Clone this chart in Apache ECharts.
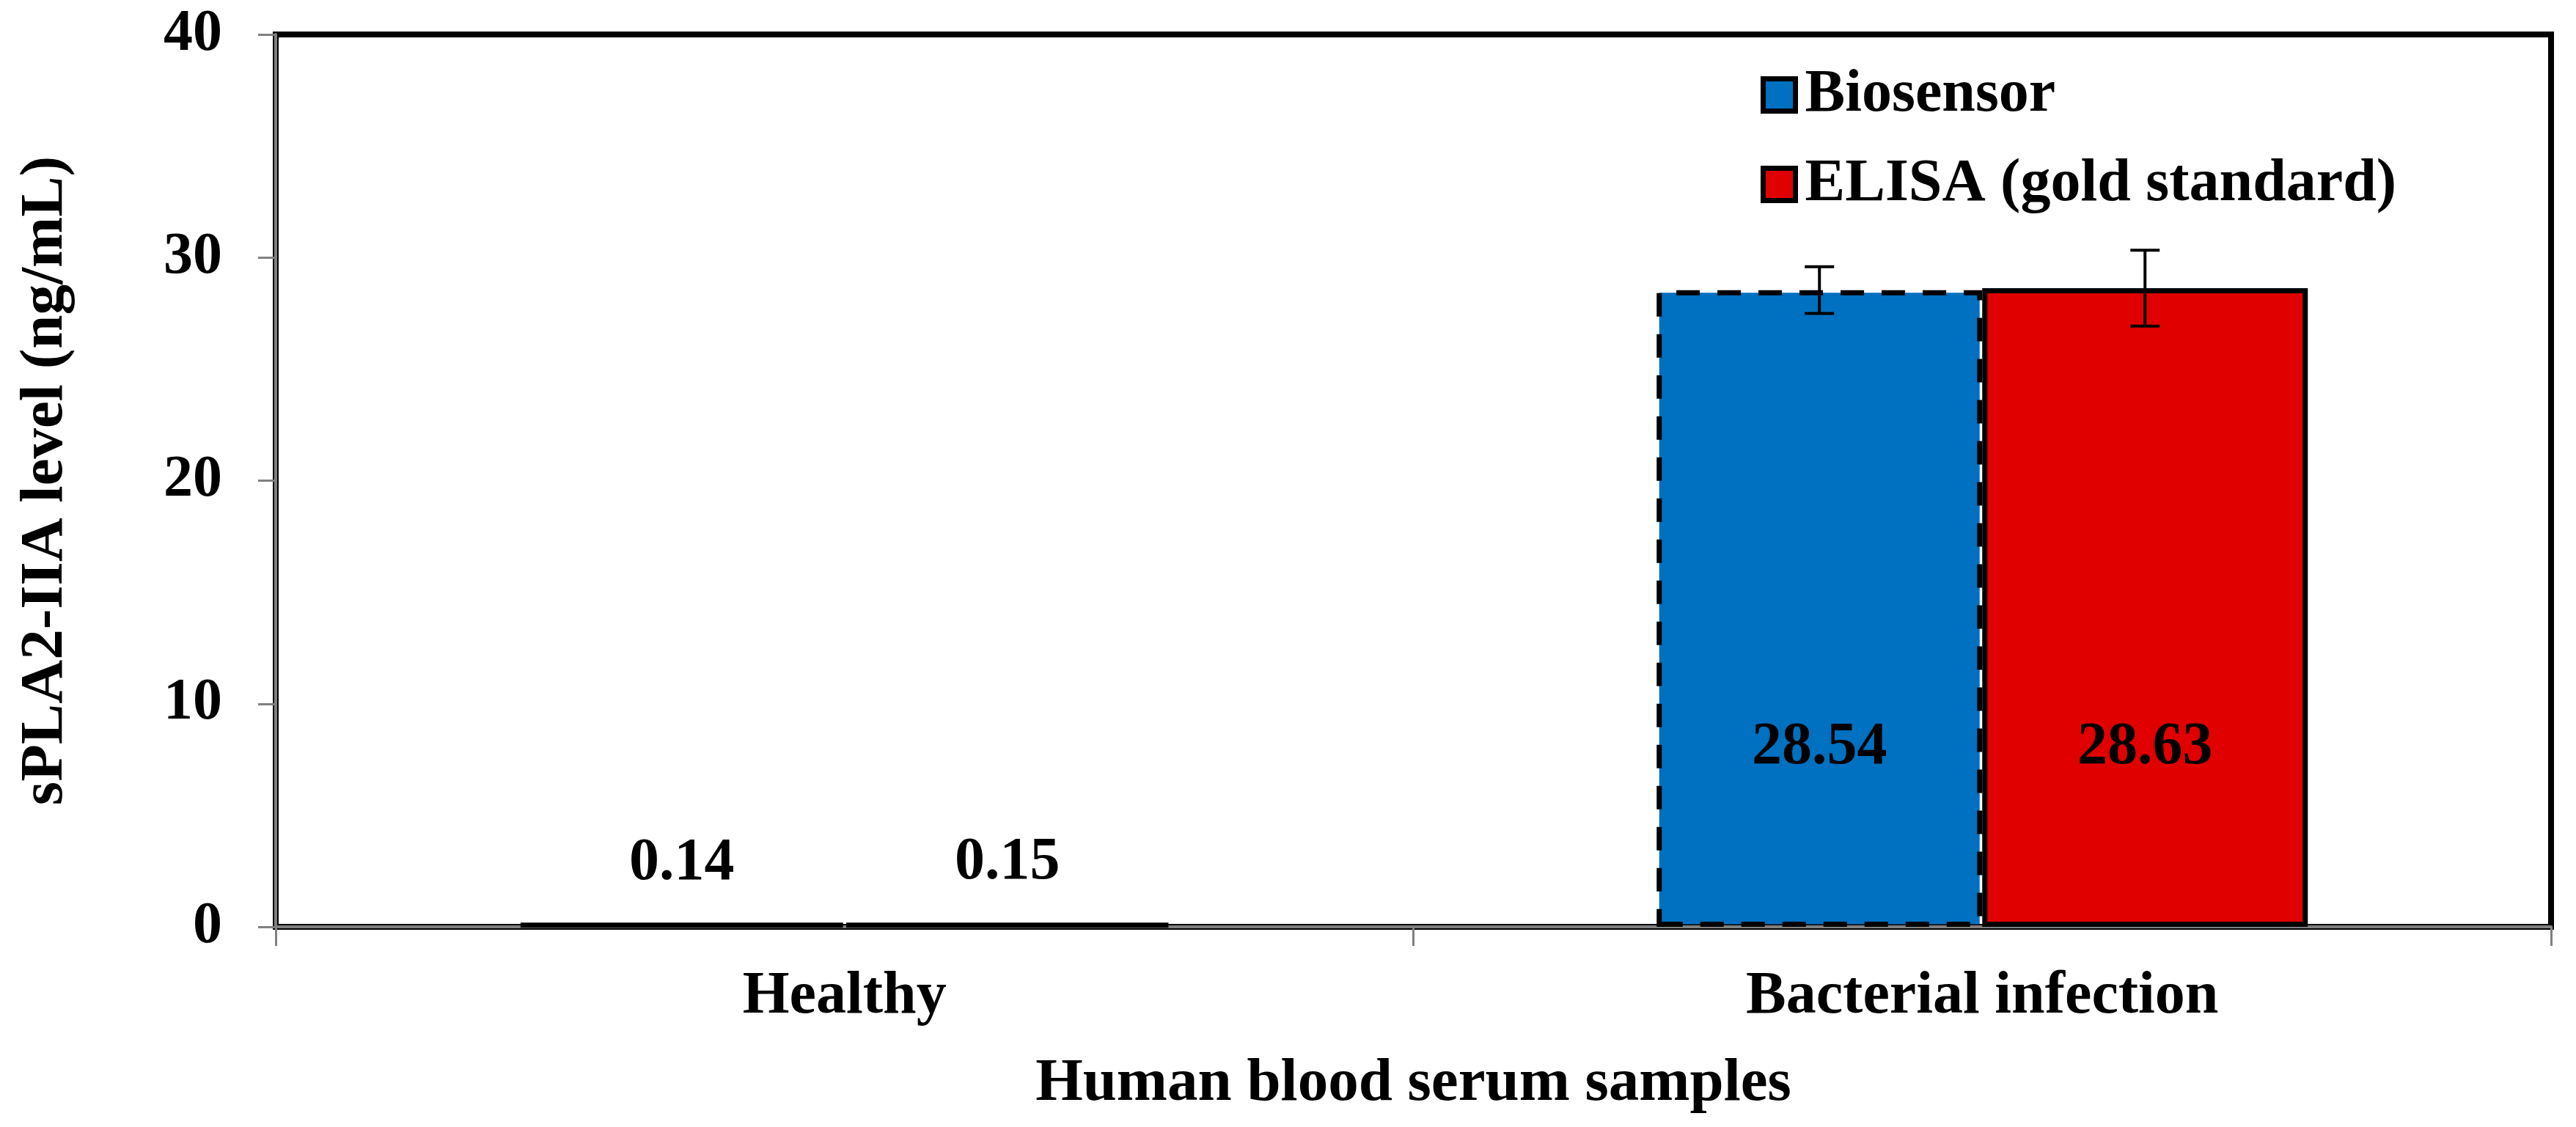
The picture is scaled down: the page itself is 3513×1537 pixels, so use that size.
<!DOCTYPE html>
<html>
<head>
<meta charset="utf-8">
<script src="https://cdn.jsdelivr.net/npm/echarts@6/dist/echarts.min.js"></script>
<style>html,body{margin:0;padding:0;background:#fff}#c{width:3513px;height:1537px}</style>
</head>
<body>
<div id="c"></div>
<script>
// ---- data ----
const categories = ['Healthy', 'Bacterial infection'];
const seriesNames = ['Biosensor', 'ELISA (gold standard)'];
const biosensor = [0.14, 28.54];
const elisa = [0.15, 28.63];
const biosensorErr = [0, 1.05];
const elisaErr = [0, 1.7];
const yMin = 0, yMax = 40, yStep = 10;
const yAxisTitle = 'sPLA2-IIA level (ng/mL)';
const xAxisTitle = 'Human blood serum samples';

// ---- layout / style ----
const FONT = 'Liberation Serif';
const BAR_W = 444;
const BLUE = '#0070C0', RED = '#E00000';

function barData(vals) {
  return vals.map(v => ({
    value: v,
    label: v < 5 ? { position: 'top', distance: 40 } : { position: 'insideBottom', distance: 203 },
    itemStyle: v < 5 ? { borderType: 'solid' } : {}
  }));
}

function errRender(offset) {
  return function (params, api) {
    const i = api.value(0), v = api.value(1), e = api.value(2);
    if (!e) return null;
    const x = api.coord([i, v])[0] + offset;
    const top = api.coord([i, v + e])[1];
    const bot = api.coord([i, v - e])[1];
    const style = { stroke: '#000', lineWidth: 4 };
    return {
      type: 'group',
      children: [
        { type: 'line', shape: { x1: x, y1: top, x2: x, y2: bot }, style: style },
        { type: 'line', shape: { x1: x - 20, y1: top, x2: x + 20, y2: top }, style: style },
        { type: 'line', shape: { x1: x - 20, y1: bot, x2: x + 20, y2: bot }, style: style }
      ]
    };
  };
}

const labelStyle = { show: true, color: '#000', fontFamily: FONT, fontWeight: 'bold', fontSize: 82, formatter: p => p.value.toFixed(2) };

const chart = echarts.init(document.getElementById('c'), null, { renderer: 'canvas' });
chart.setOption({
  backgroundColor: '#fff',
  animation: false,
  textStyle: { fontFamily: FONT },
  grid: { left: 376, right: 34, top: 47, bottom: 273, show: true, borderColor: '#000', borderWidth: 8, backgroundColor: 'transparent' },
  legend: {
    data: seriesNames,
    orient: 'vertical',
    left: 2401, top: 88, padding: 0,
    itemWidth: 44, itemHeight: 44, itemGap: 39,
    icon: 'rect',
    itemStyle: { borderColor: '#000', borderWidth: 7, borderType: 'solid' },
    textStyle: { fontFamily: FONT, fontWeight: 'bold', fontSize: 82, color: '#000', lineHeight: 83, padding: [0, 0, 0, 8] }
  },
  xAxis: {
    type: 'category',
    data: categories,
    axisLine: { show: true, lineStyle: { color: '#808080', width: 4 } },
    axisTick: { show: true, length: 26, lineStyle: { color: '#808080', width: 3 } },
    axisLabel: { margin: 55, color: '#000', fontFamily: FONT, fontWeight: 'bold', fontSize: 82 },
    splitLine: { show: false },
    name: xAxisTitle, nameLocation: 'middle', nameGap: 173,
    nameTextStyle: { color: '#000', fontFamily: FONT, fontWeight: 'bold', fontSize: 83 }
  },
  yAxis: {
    type: 'value', min: yMin, max: yMax, interval: yStep,
    axisLine: { show: true, lineStyle: { color: '#808080', width: 4 } },
    axisTick: { show: true, length: 24, lineStyle: { color: '#808080', width: 3 } },
    axisLabel: { margin: 73, color: '#000', fontFamily: FONT, fontWeight: 'bold', fontSize: 80 },
    splitLine: { show: false },
    name: yAxisTitle, nameLocation: 'middle', nameGap: 272, nameRotate: 90,
    nameTextStyle: { color: '#000', fontFamily: FONT, fontWeight: 'bold', fontSize: 83 }
  },
  series: [
    {
      name: seriesNames[0], type: 'bar', barWidth: BAR_W, barGap: '0%',
      data: barData(biosensor),
      itemStyle: { color: BLUE, borderColor: '#000', borderWidth: 7, borderType: [32, 24] },
      label: labelStyle, z: 2
    },
    {
      name: seriesNames[1], type: 'bar', barWidth: BAR_W, barGap: '0%',
      data: barData(elisa),
      itemStyle: { color: RED, borderColor: '#000', borderWidth: 7 },
      label: labelStyle, z: 2
    },
    {
      name: 'errBiosensor', type: 'custom', z: 5,
      renderItem: errRender(-BAR_W / 2),
      data: categories.map((c, i) => [i, biosensor[i], biosensorErr[i]])
    },
    {
      name: 'errElisa', type: 'custom', z: 5,
      renderItem: errRender(BAR_W / 2),
      data: categories.map((c, i) => [i, elisa[i], elisaErr[i]])
    }
  ]
});
</script>
</body>
</html>
